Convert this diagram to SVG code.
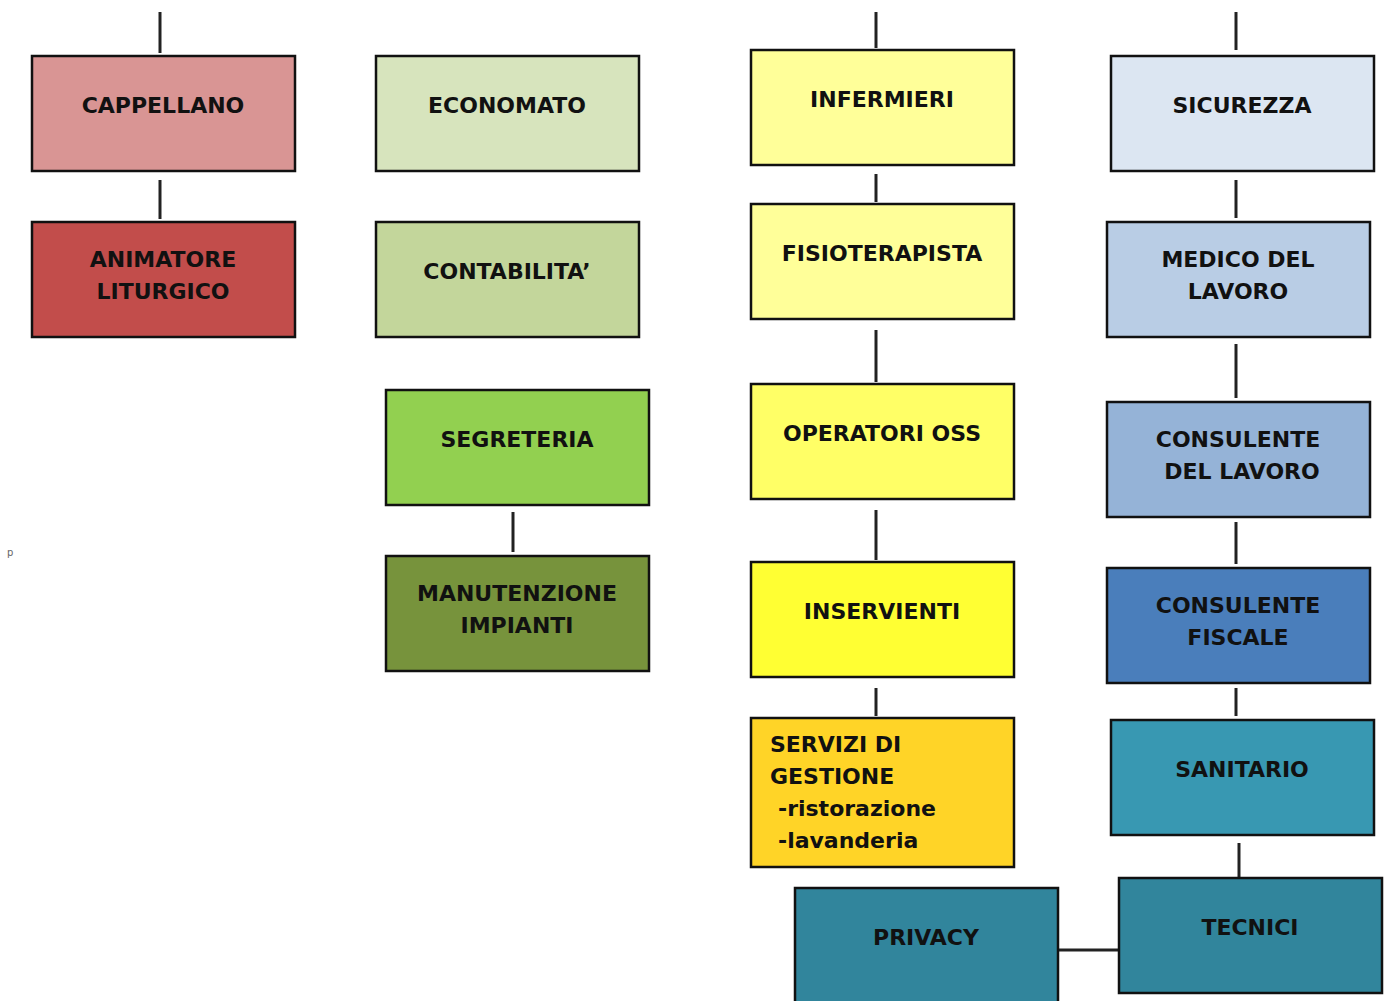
<svg xmlns="http://www.w3.org/2000/svg" width="1386" height="1001" viewBox="0 0 1386 1001">
<style>
.box{stroke:#111;stroke-width:2.5}
.t{font-family:"DejaVu Sans",sans-serif;font-weight:bold;font-size:22px;fill:#111;text-anchor:middle}
.tl{font-family:"DejaVu Sans",sans-serif;font-weight:bold;font-size:22px;fill:#111}
.c{stroke:#222;stroke-width:3;fill:none}
</style>
<rect width="1386" height="1001" fill="#fff"/>
<g id="connectors">
<line class="c" x1="160" y1="12" x2="160" y2="53"/>
<line class="c" x1="160" y1="180" x2="160" y2="219"/>
<line class="c" x1="513" y1="512" x2="513" y2="552"/>
<line class="c" x1="876" y1="12" x2="876" y2="48"/>
<line class="c" x1="876" y1="174" x2="876" y2="202"/>
<line class="c" x1="876" y1="330" x2="876" y2="382"/>
<line class="c" x1="876" y1="510" x2="876" y2="560"/>
<line class="c" x1="876" y1="688" x2="876" y2="716"/>
<line class="c" x1="1236" y1="12" x2="1236" y2="50"/>
<line class="c" x1="1236" y1="180" x2="1236" y2="218"/>
<line class="c" x1="1236" y1="344" x2="1236" y2="398"/>
<line class="c" x1="1236" y1="522" x2="1236" y2="564"/>
<line class="c" x1="1236" y1="688" x2="1236" y2="716"/>
<line class="c" x1="1239" y1="843" x2="1239" y2="877"/>
<line class="c" x1="1058" y1="950" x2="1118" y2="950"/>
</g>
<g id="cappellano"><rect class="box" x="32" y="56" width="263" height="115" fill="#D99594"/><text class="t" x="163" y="113">CAPPELLANO</text></g>
<g id="animatore"><rect class="box" x="32" y="222" width="263" height="115" fill="#C24D4B"/><text class="t" x="163" y="267">ANIMATORE</text><text class="t" x="163" y="299">LITURGICO</text></g>
<g id="economato"><rect class="box" x="376" y="56" width="263" height="115" fill="#D7E4BD"/><text class="t" x="507" y="113">ECONOMATO</text></g>
<g id="contabilita"><rect class="box" x="376" y="222" width="263" height="115" fill="#C3D69B"/><text class="t" x="507" y="279">CONTABILITA’</text></g>
<g id="segreteria"><rect class="box" x="386" y="390" width="263" height="115" fill="#92D050"/><text class="t" x="517" y="447">SEGRETERIA</text></g>
<g id="manutenzione"><rect class="box" x="386" y="556" width="263" height="115" fill="#77933C"/><text class="t" x="517" y="601">MANUTENZIONE</text><text class="t" x="517" y="633">IMPIANTI</text></g>
<g id="infermieri"><rect class="box" x="751" y="50" width="263" height="115" fill="#FFFF99"/><text class="t" x="882" y="107">INFERMIERI</text></g>
<g id="fisioterapista"><rect class="box" x="751" y="204" width="263" height="115" fill="#FFFF99"/><text class="t" x="882" y="261">FISIOTERAPISTA</text></g>
<g id="operatori"><rect class="box" x="751" y="384" width="263" height="115" fill="#FFFF66"/><text class="t" x="882" y="441">OPERATORI OSS</text></g>
<g id="inservienti"><rect class="box" x="751" y="562" width="263" height="115" fill="#FFFF33"/><text class="t" x="882" y="619">INSERVIENTI</text></g>
<g id="servizi"><rect class="box" x="751" y="718" width="263" height="149" fill="#FFD427"/><text class="tl" x="770" y="752">SERVIZI DI</text><text class="tl" x="770" y="784">GESTIONE</text><text class="tl" x="778" y="816">-ristorazione</text><text class="tl" x="778" y="848">-lavanderia</text></g>
<g id="sicurezza"><rect class="box" x="1111" y="56" width="263" height="115" fill="#DCE6F2"/><text class="t" x="1242" y="113">SICUREZZA</text></g>
<g id="medico"><rect class="box" x="1107" y="222" width="263" height="115" fill="#B9CDE5"/><text class="t" x="1238" y="267">MEDICO DEL</text><text class="t" x="1238" y="299">LAVORO</text></g>
<g id="consulente-lavoro"><rect class="box" x="1107" y="402" width="263" height="115" fill="#95B3D7"/><text class="t" x="1238" y="447">CONSULENTE</text><text class="t" x="1242" y="479">DEL LAVORO</text></g>
<g id="consulente-fiscale"><rect class="box" x="1107" y="568" width="263" height="115" fill="#4A7EBB"/><text class="t" x="1238" y="613">CONSULENTE</text><text class="t" x="1238" y="645">FISCALE</text></g>
<g id="sanitario"><rect class="box" x="1111" y="720" width="263" height="115" fill="#3898B2"/><text class="t" x="1242" y="777">SANITARIO</text></g>
<g id="tecnici"><rect class="box" x="1119" y="878" width="263" height="115" fill="#31859C"/><text class="t" x="1250" y="935">TECNICI</text></g>
<g id="privacy"><rect class="box" x="795" y="888" width="263" height="120" fill="#31859C"/><text class="t" x="926" y="945">PRIVACY</text></g>
<text x="7" y="556" font-family="DejaVu Sans,sans-serif" font-size="10" fill="#666">p</text>
</svg>
